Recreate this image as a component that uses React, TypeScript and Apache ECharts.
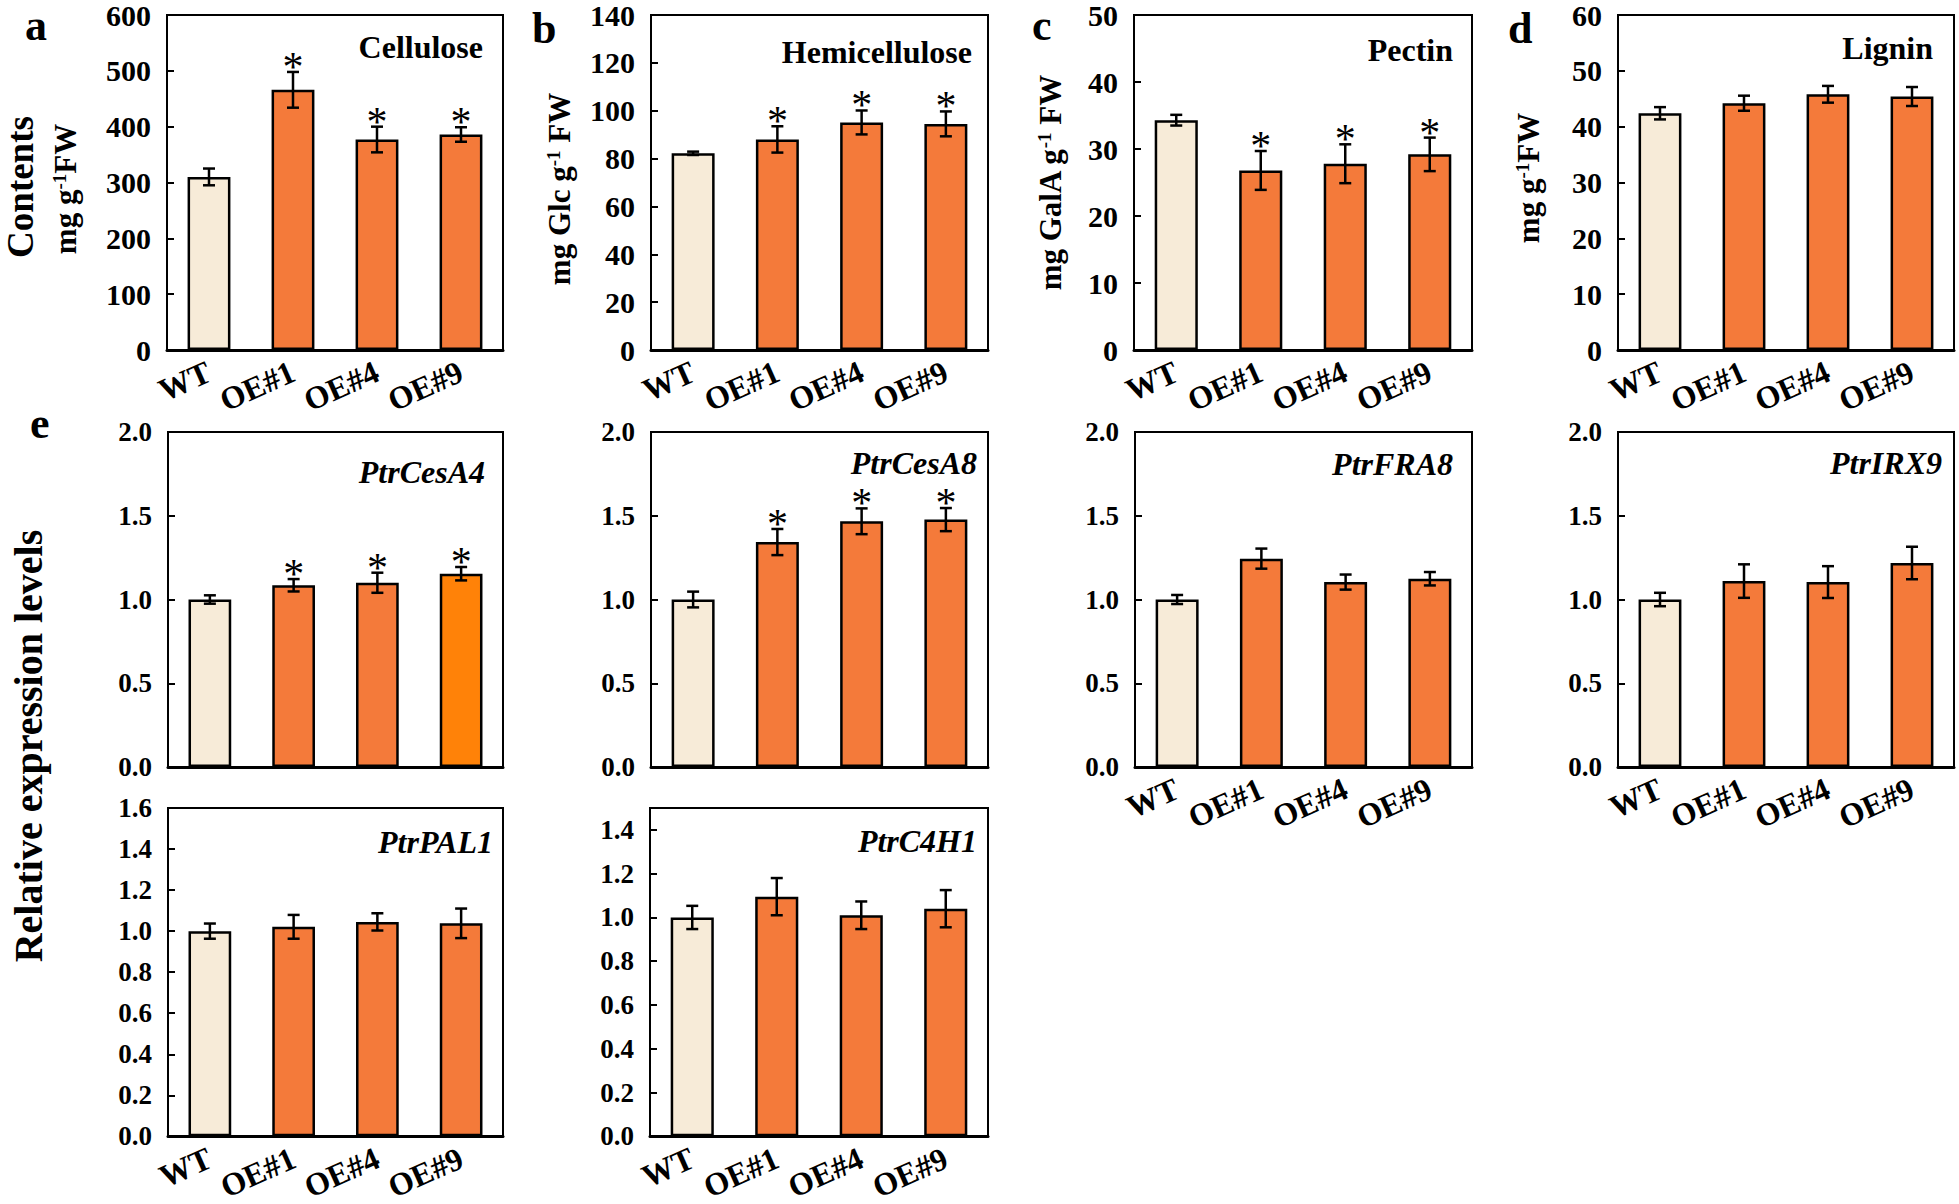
import React, { useEffect, useRef } from 'react';
import * as echarts from 'echarts';

const FONT = "'Liberation Serif', 'Times New Roman', serif";

const categories = ['WT', 'OE#1', 'OE#4', 'OE#9'];

// Panel a: Cellulose
const celluloseMean = [310, 466, 377, 386];
const celluloseErr = [15, 32, 23, 13];
const celluloseSig = [0, 1, 1, 1];
// Panel b: Hemicellulose
const hemiMean = [82.2, 88.0, 95.1, 94.5];
const hemiErr = [0.7, 5.5, 5.0, 5.2];
const hemiSig = [0, 1, 1, 1];
// Panel c: Pectin
const pectinMean = [34.3, 26.8, 27.8, 29.2];
const pectinErr = [0.8, 2.9, 2.9, 2.5];
const pectinSig = [0, 1, 1, 1];
// Panel d: Lignin
const ligninMean = [42.4, 44.2, 45.8, 45.4];
const ligninErr = [1.1, 1.35, 1.5, 1.7];
const ligninSig = [0, 0, 0, 0];
// Panel e: expression
const cesA4Mean = [1.0, 1.085, 1.1, 1.154];
const cesA4Err = [0.025, 0.037, 0.06, 0.04];
const cesA4Sig = [0, 1, 1, 1];
const cesA8Mean = [1.0, 1.343, 1.467, 1.477];
const cesA8Err = [0.047, 0.078, 0.077, 0.069];
const cesA8Sig = [0, 1, 1, 1];
const fra8Mean = [1.0, 1.244, 1.104, 1.124];
const fra8Err = [0.027, 0.06, 0.045, 0.04];
const fra8Sig = [0, 0, 0, 0];
const irx9Mean = [1.0, 1.11, 1.104, 1.218];
const irx9Err = [0.04, 0.1, 0.095, 0.097];
const irx9Sig = [0, 0, 0, 0];
const pal1Mean = [1.0, 1.021, 1.045, 1.038];
const pal1Err = [0.037, 0.058, 0.042, 0.072];
const pal1Sig = [0, 0, 0, 0];
const c4h1Mean = [1.0, 1.095, 1.01, 1.04];
const c4h1Err = [0.053, 0.085, 0.063, 0.085];
const c4h1Sig = [0, 0, 0, 0];

const WT_COLOR = '#F7EBD8';
const OE_COLOR = '#F47A3A';
const OE_BRIGHT = '#FF8208';
const normalColors = [WT_COLOR, OE_COLOR, OE_COLOR, OE_COLOR];
const cesA4Colors = [WT_COLOR, OE_COLOR, OE_COLOR, OE_BRIGHT];

const panels = [
  { mean: celluloseMean, err: celluloseErr, sig: celluloseSig, colors: normalColors, left: 167, top: 15, width: 336, height: 335, max: 600, interval: 100, dec: 0, labelMax: 600, labelSize: 30, showX: true, title: 'Cellulose', tx: 483, ty: 47, italic: false },
  { mean: hemiMean, err: hemiErr, sig: hemiSig, colors: normalColors, left: 651, top: 15, width: 337, height: 335, max: 140, interval: 20, dec: 0, labelMax: 140, labelSize: 30, showX: true, title: 'Hemicellulose', tx: 972, ty: 52, italic: false },
  { mean: pectinMean, err: pectinErr, sig: pectinSig, colors: normalColors, left: 1134, top: 15, width: 338, height: 335, max: 50, interval: 10, dec: 0, labelMax: 50, labelSize: 30, showX: true, title: 'Pectin', tx: 1453, ty: 50, italic: false },
  { mean: ligninMean, err: ligninErr, sig: ligninSig, colors: normalColors, left: 1618, top: 15, width: 336, height: 335, max: 60, interval: 10, dec: 0, labelMax: 60, labelSize: 30, showX: true, title: 'Lignin', tx: 1933, ty: 48, italic: false },
  { mean: cesA4Mean, err: cesA4Err, sig: cesA4Sig, colors: cesA4Colors, left: 168, top: 432, width: 335, height: 335, max: 2.0, interval: 0.5, dec: 1, labelMax: 2.0, labelSize: 27, showX: false, title: 'PtrCesA4', tx: 485, ty: 472, italic: true },
  { mean: cesA8Mean, err: cesA8Err, sig: cesA8Sig, colors: normalColors, left: 651, top: 432, width: 337, height: 335, max: 2.0, interval: 0.5, dec: 1, labelMax: 2.0, labelSize: 27, showX: false, title: 'PtrCesA8', tx: 977, ty: 463, italic: true },
  { mean: fra8Mean, err: fra8Err, sig: fra8Sig, colors: normalColors, left: 1135, top: 432, width: 337, height: 335, max: 2.0, interval: 0.5, dec: 1, labelMax: 2.0, labelSize: 27, showX: true, title: 'PtrFRA8', tx: 1453, ty: 464, italic: true },
  { mean: irx9Mean, err: irx9Err, sig: irx9Sig, colors: normalColors, left: 1618, top: 432, width: 336, height: 335, max: 2.0, interval: 0.5, dec: 1, labelMax: 2.0, labelSize: 27, showX: true, title: 'PtrIRX9', tx: 1942, ty: 463, italic: true },
  { mean: pal1Mean, err: pal1Err, sig: pal1Sig, colors: normalColors, left: 168, top: 808, width: 335, height: 335, max: 1.6, interval: 0.2, dec: 1, labelMax: 1.6, labelSize: 27, showX: true, title: 'PtrPAL1', tx: 493, ty: 842, italic: true },
  { mean: c4h1Mean, err: c4h1Err, sig: c4h1Sig, colors: normalColors, left: 650, top: 808, width: 338, height: 335, max: 1.5, interval: 0.2, dec: 1, labelMax: 1.4, labelSize: 27, showX: true, title: 'PtrC4H1', tx: 977, ty: 841, italic: true },
];

function buildOption() {
  const grid: any[] = [];
  const xAxis: any[] = [];
  const yAxis: any[] = [];
  const series: any[] = [];
  const graphic: any[] = [];

  panels.forEach((p, i) => {
    grid.push({
      left: p.left, top: p.top, width: p.width, height: p.height,
      show: true, borderColor: '#000', borderWidth: 2, containLabel: false,
    });
    xAxis.push({
      type: 'category', gridIndex: i, data: categories, boundaryGap: true,
      axisLine: { show: true, lineStyle: { color: '#000', width: 3 } },
      axisTick: { show: false },
      axisLabel: {
        show: p.showX, interval: 0, rotate: 24, margin: 20, color: '#000',
        fontFamily: FONT, fontWeight: 'bold', fontSize: 32, hideOverlap: false,
      },
      splitLine: { show: false },
    });
    yAxis.push({
      type: 'value', gridIndex: i, min: 0, max: p.max, interval: p.interval,
      axisLine: { show: true, lineStyle: { color: '#000', width: 2 } },
      axisTick: { show: true, inside: true, length: 7, lineStyle: { color: '#000', width: 2 } },
      axisLabel: {
        margin: 16, color: '#000', fontFamily: FONT, fontWeight: 'bold', fontSize: p.labelSize,
        formatter: (v: number) => (v > p.labelMax + 1e-6 ? '' : v.toFixed(p.dec)),
      },
      splitLine: { show: false },
    });
    series.push({
      type: 'bar', xAxisIndex: i, yAxisIndex: i, barWidth: '51%', z: 2,
      data: p.mean.map((v, k) => ({
        value: v,
        itemStyle: { color: p.colors[k], borderColor: '#000', borderWidth: 2.5 },
      })),
      silent: true,
    });
    series.push({
      type: 'custom', xAxisIndex: i, yAxisIndex: i, clip: false, z: 5,
      data: p.mean.map((v, k) => [k, v, p.err[k], p.sig[k]]),
      encode: { x: 0, y: 1 },
      renderItem: (params: any, api: any) => {
        const idx = api.value(0);
        const m = api.value(1);
        const e = api.value(2);
        const s = api.value(3);
        const top = api.coord([idx, m + e]);
        const bot = api.coord([idx, m - e]);
        const x = top[0];
        const hw = 6;
        const ls = { stroke: '#000', lineWidth: 2.5 };
        const children: any[] = [
          { type: 'line', shape: { x1: x, y1: top[1], x2: x, y2: bot[1] }, style: ls },
          { type: 'line', shape: { x1: x - hw, y1: top[1], x2: x + hw, y2: top[1] }, style: ls },
          { type: 'line', shape: { x1: x - hw, y1: bot[1], x2: x + hw, y2: bot[1] }, style: ls },
        ];
        if (s) {
          children.push({
            type: 'text', x: x, y: top[1] - 5,
            style: {
              text: '*', fill: '#000', fontSize: 42, fontFamily: FONT, fontWeight: 'normal',
              align: 'center', verticalAlign: 'middle',
            },
          });
        }
        return { type: 'group', children };
      },
      silent: true,
    });
    graphic.push({
      type: 'text', x: p.tx, y: p.ty,
      style: {
        text: p.title, fill: '#000', fontSize: 32, fontFamily: FONT, fontWeight: 'bold',
        fontStyle: p.italic ? 'italic' : 'normal', align: 'right', verticalAlign: 'middle',
      },
    });
  });

  const letters = [
    { t: 'a', x: 25, y: 25 },
    { t: 'b', x: 532, y: 28 },
    { t: 'c', x: 1032, y: 25 },
    { t: 'd', x: 1508, y: 28 },
    { t: 'e', x: 30, y: 423 },
  ];
  letters.forEach((l) => {
    graphic.push({
      type: 'text', x: l.x, y: l.y,
      style: { text: l.t, fill: '#000', fontSize: 44, fontFamily: FONT, fontWeight: 'bold', align: 'left', verticalAlign: 'middle' },
    });
  });

  const supRich = { sup: { fontSize: 19, fontFamily: FONT, fontWeight: 'bold', fill: '#000', verticalAlign: 'top' } };
  const yTitles = [
    { t: 'Contents', x: 20, y: 187, size: 37 },
    { t: 'mg g{sup|-1}FW', x: 65, y: 189, size: 31 },
    { t: 'mg Glc g{sup|-1} FW', x: 559, y: 189, size: 31 },
    { t: 'mg GalA g{sup|-1} FW', x: 1050, y: 183, size: 31 },
    { t: 'mg g{sup|-1}FW', x: 1528, y: 178, size: 31 },
    { t: 'Relative expression levels', x: 28, y: 746, size: 40 },
  ];
  yTitles.forEach((l) => {
    graphic.push({
      type: 'text', x: l.x, y: l.y, rotation: Math.PI / 2,
      style: {
        text: l.t, fill: '#000', fontSize: l.size, fontFamily: FONT, fontWeight: 'bold',
        align: 'center', verticalAlign: 'middle', rich: supRich,
      },
    });
  });

  return {
    animation: false,
    backgroundColor: '#fff',
    grid, xAxis, yAxis, series, graphic,
  };
}

export default function App() {
  const ref = useRef<HTMLDivElement>(null);
  useEffect(() => {
    if (!ref.current) return;
    const chart = echarts.init(ref.current, null, { renderer: 'svg' });
    chart.setOption(buildOption() as any);
    return () => chart.dispose();
  }, []);
  return (
    <div
      ref={ref}
      style={{ position: 'absolute', left: 0, top: 0, width: 1959, height: 1204, background: '#fff' }}
    />
  );
}
